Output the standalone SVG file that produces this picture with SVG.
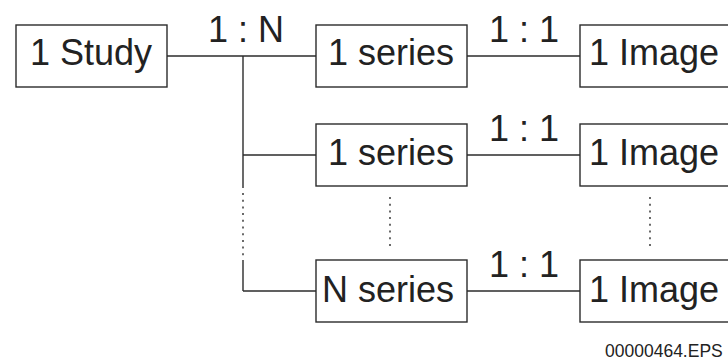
<svg xmlns="http://www.w3.org/2000/svg" width="728" height="361" viewBox="0 0 728 361">
<style>
.box{fill:#fff;stroke:#2b2b2b;stroke-width:1.4}
.ln{fill:none;stroke:#2b2b2b;stroke-width:1.4}
.dot{fill:none;stroke:#2b2b2b;stroke-width:1.4;stroke-dasharray:2 4.7}
.t{font-family:"Liberation Sans",Arial,sans-serif;font-size:36px;fill:#222}
.s{font-family:"Liberation Sans",Arial,sans-serif;font-size:17.5px;fill:#222}
</style>
<rect width="728" height="361" fill="#fff"/>
<g id="connectors">
<line class="ln" x1="167" y1="56" x2="316" y2="56"/>
<line class="ln" x1="243" y1="56" x2="243" y2="188"/>
<line class="dot" x1="243" y1="193" x2="243" y2="258"/>
<line class="ln" x1="243" y1="260" x2="243" y2="291"/>
<line class="ln" x1="243" y1="155" x2="316" y2="155"/>
<line class="ln" x1="243" y1="291" x2="316" y2="291"/>
<line class="ln" x1="467" y1="56" x2="580" y2="56"/>
<line class="ln" x1="467" y1="155" x2="580" y2="155"/>
<line class="ln" x1="467" y1="291" x2="580" y2="291"/>
<line class="dot" x1="390" y1="197" x2="390" y2="247"/>
<line class="dot" x1="650" y1="197" x2="650" y2="247"/>
<text class="t" x="208" y="42">1 : N</text>
<text class="t" x="489" y="42">1 : 1</text>
<text class="t" x="489" y="141">1 : 1</text>
<text class="t" x="489" y="277">1 : 1</text>
</g>
<g id="study">
<rect class="box" x="16" y="25" width="151" height="62"/>
<text class="t" x="30" y="65">1 Study</text>
</g>
<g id="series1">
<rect class="box" x="316" y="25" width="151" height="62"/>
<text class="t" x="328" y="65">1 series</text>
</g>
<g id="series2">
<rect class="box" x="316" y="124" width="151" height="62"/>
<text class="t" x="328" y="165">1 series</text>
</g>
<g id="seriesN">
<rect class="box" x="316" y="260" width="151" height="62"/>
<text class="t" x="322" y="302">N series</text>
</g>
<g id="image1">
<rect class="box" x="580" y="25" width="160" height="62"/>
<text class="t" x="589" y="65">1 Image</text>
</g>
<g id="image2">
<rect class="box" x="580" y="124" width="160" height="62"/>
<text class="t" x="589" y="165">1 Image</text>
</g>
<g id="imageN">
<rect class="box" x="580" y="260" width="160" height="62"/>
<text class="t" x="589" y="302">1 Image</text>
</g>
<text class="s" x="605" y="357">00000464.EPS</text>
</svg>
